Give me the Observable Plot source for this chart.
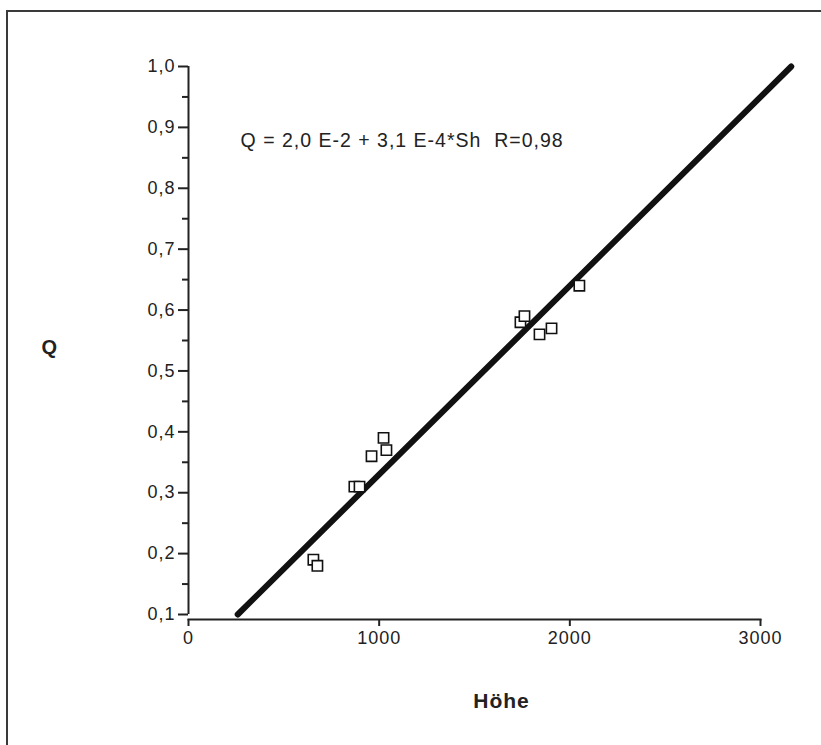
<!DOCTYPE html>
<html><head><meta charset="utf-8">
<script src="https://cdn.jsdelivr.net/npm/d3@7"></script>
<script src="https://cdn.jsdelivr.net/npm/@observablehq/plot@0.6"></script>
<style>
body{margin:0;background:#fff;}
#wrap{position:relative;width:821px;height:745px;overflow:hidden;background:#fff;}
#border{position:absolute;left:6px;top:10px;width:900px;height:900px;border-top:2px solid #3a3a3a;border-left:2px solid #3a3a3a;pointer-events:none;z-index:2;}
#chart{position:absolute;left:0;top:0;}
</style></head>
<body><div id="wrap"><div id="border"></div><div id="chart"></div></div>
<script>
// Data
const hoehe = [655, 676, 870, 897, 960, 1023, 1038, 1741, 1762, 1841, 1904, 2050];
const q     = [0.19, 0.18, 0.31, 0.31, 0.36, 0.39, 0.37, 0.58, 0.59, 0.56, 0.57, 0.64];
// Regression Q = 2,0 E-2 + 3,1 E-4 * Sh, drawn from Q=0,1 to Q=1,0
const fitIntercept = 0.02;
const fitSlope = 3.1e-4;
const fitQRange = [0.1, 1.0];
const yMajor = [0.1, 0.2, 0.3, 0.4, 0.5, 0.6, 0.7, 0.8, 0.9, 1.0];
const yMinor = [0.15, 0.25, 0.35, 0.45, 0.55, 0.65, 0.75, 0.85, 0.95];
const xTicks = [0, 1000, 2000, 3000];
const equation = "Q = 2,0 E-2 + 3,1 E-4*Sh\u00a0\u00a0R=0,98";
const yLabel = "Q";
const xLabel = "Höhe";

const points = hoehe.map((h, i) => ({h, q: q[i]}));
const fit = fitQRange.map(v => ({h: (v - fitIntercept) / fitSlope, q: v}));
const fmtY = d => d.toFixed(1).replace(".", ",");
const fmtX = d => String(d);
const ink = "#222";

const chart = Plot.plot({
  width: 821, height: 745,
  marginLeft: 188, marginRight: 61, marginTop: 66, marginBottom: 126,
  x: {domain: [0, 3000]},
  y: {domain: [0.1, 1.0], range: [614, 66]},
  style: {fontFamily: "'Liberation Sans', Arial, sans-serif", background: "transparent", color: ink, overflow: "visible", letterSpacing: "1px"},
  marks: [
    Plot.ruleX([0], {y1: 0.1, y2: 1.0, stroke: ink, strokeWidth: 2}),
    Plot.axisY(yMajor, {tickSize: 10, tickPadding: 3, tickFormat: fmtY, fontSize: 18, stroke: ink, strokeWidth: 2, label: null}),
    Plot.axisY(yMinor, {tickSize: 6, tickFormat: () => "", stroke: ink, strokeWidth: 2, label: null}),
    Plot.frame({anchor: "bottom", stroke: ink, strokeWidth: 2}),
    Plot.axisX(xTicks, {anchor: "bottom", tickSize: 7, tickPadding: 5, tickFormat: fmtX, fontSize: 18, stroke: ink, strokeWidth: 2, label: null}),
    Plot.line(fit, {x: "h", y: "q", stroke: "#111", strokeWidth: 6}),
    Plot.dot(points, {x: "h", y: "q", symbol: "square", r: 5.8, stroke: "#111", strokeWidth: 1.6, fill: "white"}),
    Plot.text([equation], {x: 273, y: 0.878, textAnchor: "start", fontSize: 19.5, fill: ink}),
    Plot.text([yLabel], {frameAnchor: "left", dx: -147, dy: 5, fontSize: 20, fontWeight: "bold", fill: ink}),
    Plot.text([xLabel], {frameAnchor: "bottom", dx: 27, dy: 88, fontSize: 21, fontWeight: "bold", fill: ink})
  ]
});
document.getElementById("chart").appendChild(chart);
</script>
</body></html>
